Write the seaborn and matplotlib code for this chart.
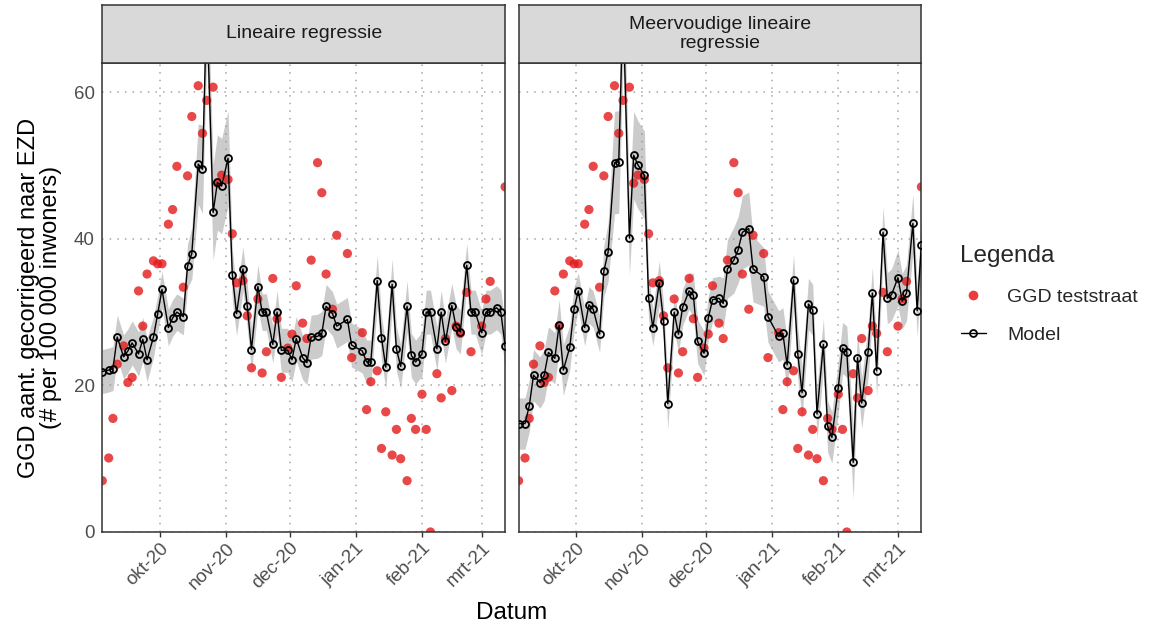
import numpy as np
import pandas as pd
import matplotlib
matplotlib.use("Agg")
import matplotlib.pyplot as plt
import seaborn as sns
from matplotlib.lines import Line2D

# ---------------- data ----------------
dates = [
    "2020-09-04", "2020-09-07", "2020-09-09", "2020-09-11", "2020-09-14", "2020-09-16",
    "2020-09-18", "2020-09-21", "2020-09-23", "2020-09-25", "2020-09-28", "2020-09-30",
    "2020-10-02", "2020-10-05", "2020-10-07", "2020-10-09", "2020-10-12", "2020-10-14",
    "2020-10-16", "2020-10-19", "2020-10-21", "2020-10-23", "2020-10-26", "2020-10-28",
    "2020-10-30",
    "2020-11-02", "2020-11-04", "2020-11-06", "2020-11-09", "2020-11-11", "2020-11-13",
    "2020-11-16", "2020-11-18", "2020-11-20", "2020-11-23", "2020-11-25", "2020-11-27",
    "2020-11-30",
    "2020-12-02", "2020-12-04", "2020-12-07", "2020-12-09", "2020-12-11", "2020-12-14",
    "2020-12-16", "2020-12-18", "2020-12-21", "2020-12-23", "2020-12-25", "2020-12-28",
    "2020-12-30",
    "2021-01-01", "2021-01-04", "2021-01-06", "2021-01-08", "2021-01-11", "2021-01-13",
    "2021-01-15", "2021-01-18", "2021-01-20", "2021-01-22", "2021-01-25", "2021-01-27",
    "2021-01-29",
    "2021-02-01", "2021-02-03", "2021-02-05", "2021-02-08", "2021-02-10", "2021-02-12",
    "2021-02-15", "2021-02-17", "2021-02-19", "2021-02-22", "2021-02-24", "2021-02-26",
    "2021-03-01", "2021-03-03", "2021-03-05", "2021-03-08", "2021-03-10", "2021-03-12",
]
nan = np.nan

teststraat = [
    7.0, 10.1, 15.5, 22.9, 25.4, 20.4, 21.1, 32.9, 28.1, 35.2, 37.0, 36.6,
    36.6, 42.0, 44.0, 49.9, 33.4, 48.6, 56.7, 60.9, 54.4, 58.9, 60.7, 47.6, 48.7,
    48.1, 40.7, 34.0, 34.3, 29.5, 22.4, 31.8, 21.7, 24.6, 34.6, 29.1, 21.1, 25.1,
    27.0, 33.6, 28.5, 26.4, 37.1, 50.4, 46.3, 35.2, 30.4, 40.5, nan, 38.0, 23.8,
    nan, 27.2, 16.7, 20.5, 22.0, 11.4, 16.4, 10.5, 14.0, 10.0, 7.0, 15.5, 14.0,
    18.8, 14.0, 0.0, 21.6, 18.3, 26.4, 19.3, 28.1, 27.1, 32.7, 24.6, nan,
    28.1, 31.8, 34.2, nan, nan, 47.1,
]

model_lineair = [
    21.9, 22.1, 22.3, 26.6, 23.9, 24.7, 25.8, 24.3, 26.3, 23.5, 26.6, 29.8,
    33.1, 27.9, 29.2, 30.0, 29.4, 36.3, 38.0, 50.2, 49.5, 72.0, 43.6, 47.7, 47.2,
    51.0, 35.1, 29.8, 35.9, 30.9, 24.9, 33.5, 30.0, 30.0, 25.6, 30.0, 24.8, 24.8,
    23.5, 26.4, 23.8, 23.1, 26.6, 26.7, 27.1, 30.8, 29.8, 28.1, nan, 29.0, 25.5,
    nan, 24.7, 23.2, 23.2, 34.3, 26.5, 22.5, 33.8, 25.0, 22.6, 30.8, 24.1, 23.2,
    24.3, 30.0, 30.0, 25.0, 30.0, 26.0, 30.9, 28.0, 27.3, 36.4, 30.0, 30.0,
    27.2, 30.0, 30.0, 30.6, 30.0, 25.4,
]
marge_lineair = [
    3.0, 3.0, 3.0, 3.0, 3.0, 3.0, 3.0, 3.0, 3.0, 3.0, 2.8, 2.5,
    2.5, 2.5, 2.5, 2.5, 2.5, 3.0, 3.5, 5.5, 6.0, 7.0, 6.5, 6.5, 6.5,
    6.5, 3.5, 3.0, 3.0, 3.0, 3.0, 3.0, 2.5, 2.5, 2.5, 3.0, 3.0, 3.0,
    3.0, 3.0, 3.0, 3.0, 3.0, 3.0, 3.0, 3.0, 3.0, 3.0, nan, 3.0, 3.0,
    nan, 3.0, 3.0, 3.0, 3.5, 3.0, 3.0, 3.5, 3.0, 3.0, 3.5, 3.0, 3.0,
    3.0, 3.0, 3.0, 3.0, 3.0, 3.0, 3.0, 3.0, 3.0, 3.0, 3.0, 3.0,
    3.0, 3.0, 3.0, 3.0, 3.0, 3.0,
]

model_meervoudig = [
    14.8, 14.8, 17.2, 21.4, 20.4, 21.4, 24.5, 23.7, 28.2, 22.1, 25.2, 30.4,
    32.9, 27.9, 31.0, 30.4, 27.0, 35.6, 38.2, 50.4, 50.5, 72.0, 40.1, 51.4, 50.1,
    48.7, 31.9, 27.9, 34.0, 28.8, 17.5, 30.0, 27.0, 30.7, 32.9, 32.3, 26.0, 24.4,
    29.2, 31.7, 31.9, 31.2, 35.9, 37.1, 38.5, 40.9, 41.4, 35.9, nan, 34.8, 29.4,
    nan, 26.7, 27.1, 22.8, 34.4, 24.3, 19.0, 31.1, 30.3, 16.1, 25.6, 14.4, 12.9,
    19.7, 25.1, 24.6, 9.5, 23.8, 17.6, 24.6, 32.6, 22.0, 40.9, 31.9, 32.4,
    34.7, 31.5, 32.6, 42.1, 30.2, 39.2,
]
marge_meervoudig = [
    3.5, 3.5, 3.5, 3.5, 3.5, 3.5, 3.5, 3.5, 3.5, 3.5, 3.0, 3.0,
    2.5, 2.5, 2.5, 2.5, 2.5, 3.5, 4.0, 7.0, 7.0, 8.0, 5.0, 6.0, 6.0,
    6.0, 3.0, 2.5, 3.0, 2.5, 3.5, 2.5, 2.5, 2.5, 2.5, 3.0, 3.0, 3.0,
    3.0, 3.0, 3.0, 3.5, 4.0, 4.5, 4.5, 5.0, 5.0, 4.5, nan, 4.0, 3.5,
    nan, 3.5, 3.5, 3.5, 3.5, 3.5, 3.5, 3.5, 3.5, 3.5, 3.5, 3.5, 3.5,
    3.5, 3.5, 3.5, 5.0, 3.5, 3.5, 3.5, 3.5, 3.5, 3.5, 3.5, 3.5,
    3.8, 3.8, 3.8, 4.0, 3.5, 3.5,
]

panel_titles = ["Lineaire regressie", "Meervoudige lineaire\nregressie"]
tick_dates = ["2020-10-01", "2020-11-01", "2020-12-01", "2021-01-01", "2021-02-01", "2021-03-01"]
tick_labels = ["okt-20", "nov-20", "dec-20", "jan-21", "feb-21", "mrt-21"]
y_ticks = [0, 20, 40, 60]

# ---------------- style ----------------
sns.set_theme(style="white")
plt.rcParams["font.family"] = ["Liberation Sans", "DejaVu Sans"]

RED = "#E41A1C"
BORDER = "#333333"
GRID = "#A6A6A6"
TICKCOL = "#4D4D4D"

fig = plt.figure(figsize=(11.5, 6.28), dpi=100)
W, H = 1150, 628

def fx(px):
    return px / W

def fy(py):
    return 1 - py / H

panel_left = [102.3, 518.6]
panel_w = 402.8
top_px, bot_px = 63, 532
strip_top = 5

obs = pd.DataFrame({"datum": pd.to_datetime(dates), "waarde": teststraat}).dropna()

models = [model_lineair, model_meervoudig]
marges = [marge_lineair, marge_meervoudig]

for i in range(2):
    ax = fig.add_axes([fx(panel_left[i]), fy(bot_px), fx(panel_w), (bot_px - top_px) / H])
    mdf = pd.DataFrame({"datum": pd.to_datetime(dates), "waarde": models[i],
                        "marge": marges[i]}).dropna()

    ax.fill_between(mdf["datum"], mdf["waarde"] - mdf["marge"], mdf["waarde"] + mdf["marge"],
                    color="#8C8C8C", alpha=0.45, lw=0, zorder=1)
    sns.scatterplot(data=obs, x="datum", y="waarde", ax=ax, color=RED, alpha=0.8,
                    s=44, edgecolor="none", zorder=2, legend=False)
    sns.lineplot(data=mdf, x="datum", y="waarde", ax=ax, color="black", lw=1.0,
                 marker="o", markersize=5.0, markerfacecolor="none",
                 markeredgecolor="black", markeredgewidth=1.3, zorder=3,
                 legend=False, errorbar=None)

    ax.set_xlim(pd.Timestamp("2020-09-04"), pd.Timestamp("2021-03-12"))
    ax.set_ylim(0, 64)
    ax.set_xticks(pd.to_datetime(tick_dates))
    ax.set_xticklabels(tick_labels, rotation=45, ha="right", rotation_mode="anchor",
                       fontsize=13.5, color=TICKCOL)
    ax.set_yticks(y_ticks)
    if i == 0:
        ax.set_yticklabels([str(v) for v in y_ticks], fontsize=13.5, color=TICKCOL)
        ax.tick_params(axis="y", length=3.5, width=1.0, color=BORDER, pad=2)
    else:
        ax.tick_params(axis="y", left=False, labelleft=False)
    ax.tick_params(axis="x", length=3.5, width=1.0, color=BORDER, pad=2, bottom=True)
    ax.set_xlabel("")
    ax.set_ylabel("")
    ax.set_axisbelow(True)
    ax.grid(True, which="major", color=GRID, linestyle=(0, (1, 4)), lw=1.1)
    for sp in ax.spines.values():
        sp.set_visible(True)
        sp.set_color(BORDER)
        sp.set_linewidth(1.1)

    # strip
    sax = fig.add_axes([fx(panel_left[i]), fy(top_px), fx(panel_w), (top_px - strip_top) / H])
    sax.set_facecolor("#D9D9D9")
    sax.set_xticks([])
    sax.set_yticks([])
    for sp in sax.spines.values():
        sp.set_visible(True)
        sp.set_color(BORDER)
        sp.set_linewidth(1.1)
    sax.text(0.5, 0.5, panel_titles[i], ha="center", va="center", fontsize=14,
             color="#1A1A1A", transform=sax.transAxes, linespacing=1.15)

# axis titles
fig.text(fx((panel_left[0] + panel_left[1] + panel_w) / 2), fy(613), "Datum",
         ha="center", va="center", fontsize=17.5, color="black")
fig.text(fx(40), fy((top_px + bot_px) / 2),
         "GGD aant. gecorrigeerd naar EZD\n(# per 100 000 inwoners)",
         ha="center", va="center", rotation=90, fontsize=17, color="black",
         linespacing=1.0)

# legend
handles = [
    Line2D([], [], ls="none", marker="o", markersize=7, markerfacecolor=RED,
           markeredgecolor="none", alpha=0.85),
    Line2D([], [], color="black", lw=1.0, marker="o", markersize=5.0,
           markerfacecolor="none", markeredgecolor="black", markeredgewidth=1.3),
]
leg = fig.legend(handles, ["GGD teststraat", "Model"], title="Legenda",
                 loc="upper left", bbox_to_anchor=(fx(943), fy(228)),
                 frameon=False, fontsize=14, title_fontsize=17.5,
                 handlelength=1.3, handletextpad=1.1, labelspacing=1.05,
                 alignment="left")

fig.savefig("out.png", dpi=100)
